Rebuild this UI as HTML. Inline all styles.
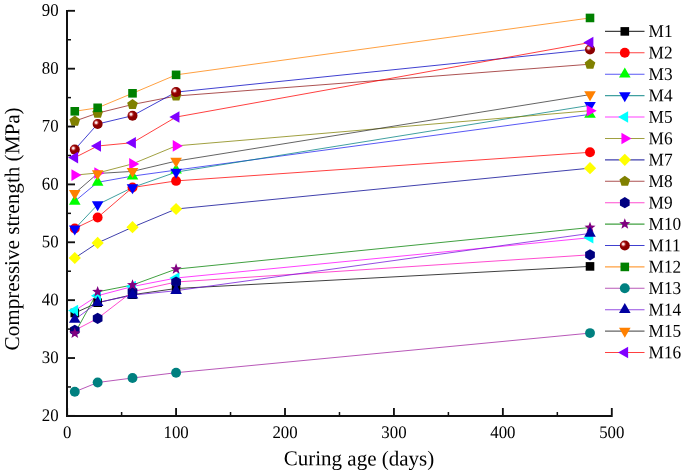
<!DOCTYPE html>
<html><head><meta charset="utf-8"><style>
html,body{margin:0;padding:0;background:#fff;}
svg{display:block;will-change:transform;}
text{font-family:"Liberation Serif",serif;fill:#000;text-rendering:geometricPrecision;}
</style></head><body>
<svg width="685" height="474" viewBox="0 0 685 474">
<defs><radialGradient id="sph" cx="0.36" cy="0.37" r="0.66" fx="0.35" fy="0.36"><stop offset="0" stop-color="#fff6f6"/><stop offset="0.14" stop-color="#f6dada"/><stop offset="0.3" stop-color="#b83838"/><stop offset="0.45" stop-color="#900000"/><stop offset="1" stop-color="#860000"/></radialGradient></defs>

<g><polyline points="74.78,313.00 97.65,302.70 132.51,294.70 176.08,288.50 590.01,266.40" fill="none" stroke="#000000" stroke-opacity="0.75" stroke-width="1.0"/><polyline points="74.78,228.50 97.65,217.50 132.51,187.50 176.08,180.90 590.01,152.30" fill="none" stroke="#FF0000" stroke-opacity="0.75" stroke-width="1.0"/><polyline points="74.78,201.30 97.65,182.30 132.51,176.10 176.08,170.10 590.01,114.40" fill="none" stroke="#2020F0" stroke-opacity="0.75" stroke-width="1.0"/><polyline points="74.78,228.80 97.65,204.60 132.51,187.50 176.08,172.10 590.01,105.30" fill="none" stroke="#008080" stroke-opacity="0.75" stroke-width="1.0"/><polyline points="74.78,310.60 97.65,295.70 132.51,286.50 176.08,278.00 590.01,237.70" fill="none" stroke="#FF00FF" stroke-opacity="0.75" stroke-width="1.0"/><polyline points="74.78,175.10 97.65,173.00 132.51,163.90 176.08,145.90 590.01,110.70" fill="none" stroke="#808000" stroke-opacity="0.75" stroke-width="1.0"/><polyline points="74.78,258.00 97.65,242.90 132.51,227.20 176.08,209.00 590.01,168.15" fill="none" stroke="#000090" stroke-opacity="0.75" stroke-width="1.0"/><polyline points="74.78,121.10 97.65,113.10 132.51,104.50 176.08,96.00 590.01,64.20" fill="none" stroke="#901818" stroke-opacity="0.75" stroke-width="1.0"/><polyline points="74.78,330.30 97.65,318.40 132.51,291.60 176.08,282.00 590.01,254.80" fill="none" stroke="#FF10C0" stroke-opacity="0.75" stroke-width="1.0"/><polyline points="74.78,333.30 97.65,291.80 132.51,285.00 176.08,269.10 590.01,227.50" fill="none" stroke="#008000" stroke-opacity="0.75" stroke-width="1.0"/><polyline points="74.78,149.60 97.65,124.00 132.51,115.70 176.08,92.10 590.01,49.50" fill="none" stroke="#0000C0" stroke-opacity="0.75" stroke-width="1.0"/><polyline points="74.78,111.30 97.65,107.80 132.51,93.30 176.08,74.85 590.01,17.95" fill="none" stroke="#FF8000" stroke-opacity="0.75" stroke-width="1.0"/><polyline points="74.78,391.80 97.65,382.50 132.51,378.00 176.08,372.70 590.01,333.10" fill="none" stroke="#A020A0" stroke-opacity="0.75" stroke-width="1.0"/><polyline points="74.78,319.50 97.65,302.60 132.51,295.10 176.08,290.70 590.01,233.40" fill="none" stroke="#7010D8" stroke-opacity="0.75" stroke-width="1.0"/><polyline points="74.78,193.30 97.65,173.50 132.51,171.40 176.08,161.10 590.01,94.60" fill="none" stroke="#303030" stroke-opacity="0.75" stroke-width="1.0"/><polyline points="74.78,157.60 97.65,146.00 132.51,142.70 176.08,117.05 590.01,42.50" fill="none" stroke="#FF0000" stroke-opacity="0.75" stroke-width="1.0"/></g>
<g><rect x="70.48" y="308.70" width="8.6" height="8.6" fill="#000000"/><rect x="93.35" y="298.40" width="8.6" height="8.6" fill="#000000"/><rect x="128.21" y="290.40" width="8.6" height="8.6" fill="#000000"/><rect x="171.78" y="284.20" width="8.6" height="8.6" fill="#000000"/><rect x="585.71" y="262.10" width="8.6" height="8.6" fill="#000000"/><circle cx="74.78" cy="228.50" r="4.95" fill="#FF0000"/><circle cx="97.65" cy="217.50" r="4.95" fill="#FF0000"/><circle cx="132.51" cy="187.50" r="4.95" fill="#FF0000"/><circle cx="176.08" cy="180.90" r="4.95" fill="#FF0000"/><circle cx="590.01" cy="152.30" r="4.95" fill="#FF0000"/><polygon points="74.78,194.60 80.58,204.65 68.97,204.65" fill="#00FF00"/><polygon points="97.65,175.60 103.45,185.65 91.85,185.65" fill="#00FF00"/><polygon points="132.51,169.40 138.31,179.45 126.71,179.45" fill="#00FF00"/><polygon points="176.08,163.40 181.88,173.45 170.28,173.45" fill="#00FF00"/><polygon points="590.01,107.70 595.82,117.75 584.21,117.75" fill="#00FF00"/><polygon points="74.78,235.50 68.97,225.45 80.58,225.45" fill="#0000FF"/><polygon points="97.65,211.30 91.85,201.25 103.45,201.25" fill="#0000FF"/><polygon points="132.51,194.20 126.71,184.15 138.31,184.15" fill="#0000FF"/><polygon points="176.08,178.80 170.28,168.75 181.88,168.75" fill="#0000FF"/><polygon points="590.01,112.00 584.21,101.95 595.82,101.95" fill="#0000FF"/><polygon points="68.08,310.60 78.13,304.80 78.13,316.40" fill="#00FFFF"/><polygon points="90.95,295.70 101.00,289.90 101.00,301.50" fill="#00FFFF"/><polygon points="125.81,286.50 135.86,280.70 135.86,292.30" fill="#00FFFF"/><polygon points="169.38,278.00 179.43,272.20 179.43,283.80" fill="#00FFFF"/><polygon points="583.31,237.70 593.36,231.90 593.36,243.50" fill="#00FFFF"/><polygon points="81.48,175.10 71.43,180.90 71.43,169.30" fill="#FF00FF"/><polygon points="104.35,173.00 94.30,178.80 94.30,167.20" fill="#FF00FF"/><polygon points="139.21,163.90 129.16,169.70 129.16,158.10" fill="#FF00FF"/><polygon points="182.78,145.90 172.73,151.70 172.73,140.10" fill="#FF00FF"/><polygon points="596.71,110.70 586.66,116.50 586.66,104.90" fill="#FF00FF"/><polygon points="74.78,251.90 80.88,258.00 74.78,264.10 68.68,258.00" fill="#FFFF00"/><polygon points="97.65,236.80 103.75,242.90 97.65,249.00 91.55,242.90" fill="#FFFF00"/><polygon points="132.51,221.10 138.61,227.20 132.51,233.30 126.41,227.20" fill="#FFFF00"/><polygon points="176.08,202.90 182.18,209.00 176.08,215.10 169.98,209.00" fill="#FFFF00"/><polygon points="590.01,162.05 596.11,168.15 590.01,174.25 583.91,168.15" fill="#FFFF00"/><polygon points="74.78,115.50 80.10,119.37 78.07,125.63 71.48,125.63 69.45,119.37" fill="#808000"/><polygon points="97.65,107.50 102.98,111.37 100.94,117.63 94.36,117.63 92.32,111.37" fill="#808000"/><polygon points="132.51,98.90 137.83,102.77 135.80,109.03 129.22,109.03 127.18,102.77" fill="#808000"/><polygon points="176.08,90.40 181.41,94.27 179.37,100.53 172.79,100.53 170.75,94.27" fill="#808000"/><polygon points="590.01,58.60 595.34,62.47 593.31,68.73 586.72,68.73 584.69,62.47" fill="#808000"/><polygon points="74.78,324.70 79.62,327.50 79.62,333.10 74.78,335.90 69.93,333.10 69.93,327.50" fill="#000080"/><polygon points="97.65,312.80 102.50,315.60 102.50,321.20 97.65,324.00 92.80,321.20 92.80,315.60" fill="#000080"/><polygon points="132.51,286.00 137.36,288.80 137.36,294.40 132.51,297.20 127.66,294.40 127.66,288.80" fill="#000080"/><polygon points="176.08,276.40 180.93,279.20 180.93,284.80 176.08,287.60 171.23,284.80 171.23,279.20" fill="#000080"/><polygon points="590.01,249.20 594.86,252.00 594.86,257.60 590.01,260.40 585.16,257.60 585.16,252.00" fill="#000080"/><polygon points="74.78,327.50 76.21,331.33 80.29,331.51 77.09,334.05 78.18,337.99 74.78,335.74 71.37,337.99 72.46,334.05 69.26,331.51 73.34,331.33" fill="#800080"/><polygon points="97.65,286.00 99.08,289.83 103.17,290.01 99.97,292.55 101.06,296.49 97.65,294.24 94.24,296.49 95.33,292.55 92.13,290.01 96.22,289.83" fill="#800080"/><polygon points="132.51,279.20 133.94,283.03 138.02,283.21 134.82,285.75 135.92,289.69 132.51,287.44 129.10,289.69 130.19,285.75 126.99,283.21 131.08,283.03" fill="#800080"/><polygon points="176.08,263.30 177.51,267.13 181.60,267.31 178.40,269.85 179.49,273.79 176.08,271.54 172.67,273.79 173.76,269.85 170.56,267.31 174.65,267.13" fill="#800080"/><polygon points="590.01,221.70 591.45,225.53 595.53,225.71 592.33,228.25 593.42,232.19 590.01,229.94 586.60,232.19 587.70,228.25 584.50,225.71 588.58,225.53" fill="#800080"/><circle cx="74.78" cy="149.60" r="5" fill="url(#sph)"/><circle cx="97.65" cy="124.00" r="5" fill="url(#sph)"/><circle cx="132.51" cy="115.70" r="5" fill="url(#sph)"/><circle cx="176.08" cy="92.10" r="5" fill="url(#sph)"/><circle cx="590.01" cy="49.50" r="5" fill="url(#sph)"/><rect x="70.48" y="107.00" width="8.6" height="8.6" fill="#008000"/><rect x="93.35" y="103.50" width="8.6" height="8.6" fill="#008000"/><rect x="128.21" y="89.00" width="8.6" height="8.6" fill="#008000"/><rect x="171.78" y="70.55" width="8.6" height="8.6" fill="#008000"/><rect x="585.71" y="13.65" width="8.6" height="8.6" fill="#008000"/><circle cx="74.78" cy="391.80" r="4.95" fill="#008080"/><circle cx="97.65" cy="382.50" r="4.95" fill="#008080"/><circle cx="132.51" cy="378.00" r="4.95" fill="#008080"/><circle cx="176.08" cy="372.70" r="4.95" fill="#008080"/><circle cx="590.01" cy="333.10" r="4.95" fill="#008080"/><polygon points="74.78,312.80 80.58,322.85 68.97,322.85" fill="#0000A0"/><polygon points="97.65,295.90 103.45,305.95 91.85,305.95" fill="#0000A0"/><polygon points="132.51,288.40 138.31,298.45 126.71,298.45" fill="#0000A0"/><polygon points="176.08,284.00 181.88,294.05 170.28,294.05" fill="#0000A0"/><polygon points="590.01,226.70 595.82,236.75 584.21,236.75" fill="#0000A0"/><polygon points="74.78,200.00 68.97,189.95 80.58,189.95" fill="#FF8000"/><polygon points="97.65,180.20 91.85,170.15 103.45,170.15" fill="#FF8000"/><polygon points="132.51,178.10 126.71,168.05 138.31,168.05" fill="#FF8000"/><polygon points="176.08,167.80 170.28,157.75 181.88,157.75" fill="#FF8000"/><polygon points="590.01,101.30 584.21,91.25 595.82,91.25" fill="#FF8000"/><polygon points="68.08,157.60 78.13,151.80 78.13,163.40" fill="#8000FF"/><polygon points="90.95,146.00 101.00,140.20 101.00,151.80" fill="#8000FF"/><polygon points="125.81,142.70 135.86,136.90 135.86,148.50" fill="#8000FF"/><polygon points="169.38,117.05 179.43,111.25 179.43,122.85" fill="#8000FF"/><polygon points="583.31,42.50 593.36,36.70 593.36,48.30" fill="#8000FF"/></g>
<g><rect x="66" y="10" width="2" height="407" fill="#111"/><rect x="66" y="415" width="546.7" height="2" fill="#111"/><rect x="68" y="414.97" width="7" height="1.85" fill="#111"/><rect x="68" y="386.21" width="3" height="1.5" fill="#111"/><rect x="68" y="357.10" width="7" height="1.85" fill="#111"/><rect x="68" y="328.34" width="3" height="1.5" fill="#111"/><rect x="68" y="299.23" width="7" height="1.85" fill="#111"/><rect x="68" y="270.47" width="3" height="1.5" fill="#111"/><rect x="68" y="241.36" width="7" height="1.85" fill="#111"/><rect x="68" y="212.60" width="3" height="1.5" fill="#111"/><rect x="68" y="183.49" width="7" height="1.85" fill="#111"/><rect x="68" y="154.73" width="3" height="1.5" fill="#111"/><rect x="68" y="125.62" width="7" height="1.85" fill="#111"/><rect x="68" y="96.87" width="3" height="1.5" fill="#111"/><rect x="68" y="67.76" width="7" height="1.85" fill="#111"/><rect x="68" y="39.00" width="3" height="1.5" fill="#111"/><rect x="68" y="9.89" width="7" height="1.85" fill="#111"/><rect x="66.23" y="408" width="1.85" height="7" fill="#111"/><rect x="120.87" y="412" width="1.5" height="3" fill="#111"/><rect x="175.15" y="408" width="1.85" height="7" fill="#111"/><rect x="229.79" y="412" width="1.5" height="3" fill="#111"/><rect x="284.08" y="408" width="1.85" height="7" fill="#111"/><rect x="338.73" y="412" width="1.5" height="3" fill="#111"/><rect x="393.01" y="408" width="1.85" height="7" fill="#111"/><rect x="447.65" y="412" width="1.5" height="3" fill="#111"/><rect x="501.94" y="408" width="1.85" height="7" fill="#111"/><rect x="556.58" y="412" width="1.5" height="3" fill="#111"/><rect x="610.88" y="408" width="1.85" height="7" fill="#111"/></g>
<text transform="translate(58.6,420.90) rotate(0.05) scale(0.95,1)" font-size="17.7" text-anchor="end">20</text><text transform="translate(58.6,363.03) rotate(0.05) scale(0.95,1)" font-size="17.7" text-anchor="end">30</text><text transform="translate(58.6,305.16) rotate(0.05) scale(0.95,1)" font-size="17.7" text-anchor="end">40</text><text transform="translate(58.6,247.29) rotate(0.05) scale(0.95,1)" font-size="17.7" text-anchor="end">50</text><text transform="translate(58.6,189.42) rotate(0.05) scale(0.95,1)" font-size="17.7" text-anchor="end">60</text><text transform="translate(58.6,131.55) rotate(0.05) scale(0.95,1)" font-size="17.7" text-anchor="end">70</text><text transform="translate(58.6,73.68) rotate(0.05) scale(0.95,1)" font-size="17.7" text-anchor="end">80</text><text transform="translate(58.6,15.81) rotate(0.05) scale(0.95,1)" font-size="17.7" text-anchor="end">90</text><text transform="translate(67.15,437.9) rotate(0.05) scale(0.95,1)" font-size="17.7" text-anchor="middle">0</text><text transform="translate(176.08,437.9) rotate(0.05) scale(0.95,1)" font-size="17.7" text-anchor="middle">100</text><text transform="translate(285.01,437.9) rotate(0.05) scale(0.95,1)" font-size="17.7" text-anchor="middle">200</text><text transform="translate(393.94,437.9) rotate(0.05) scale(0.95,1)" font-size="17.7" text-anchor="middle">300</text><text transform="translate(502.87,437.9) rotate(0.05) scale(0.95,1)" font-size="17.7" text-anchor="middle">400</text><text transform="translate(611.80,437.9) rotate(0.05) scale(0.95,1)" font-size="17.7" text-anchor="middle">500</text>
<text transform="translate(359,465.4) rotate(0.05) scale(0.986,1)" font-size="21.3" text-anchor="middle">Curing age (days)</text>
<text transform="translate(19.1,228.9) rotate(-89.95)" font-size="21.15" text-anchor="middle">Compressive strength (MPa)</text>
<line x1="605" y1="31.40" x2="644.5" y2="31.40" stroke="#000000" stroke-opacity="0.75" stroke-width="1.1"/><rect x="620.50" y="27.10" width="8.6" height="8.6" fill="#000000"/><text transform="translate(648.6,37.10) rotate(0.05) scale(0.96,1)" font-size="18">M1</text><line x1="605" y1="52.81" x2="644.5" y2="52.81" stroke="#FF0000" stroke-opacity="0.75" stroke-width="1.1"/><circle cx="624.80" cy="52.81" r="4.95" fill="#FF0000"/><text transform="translate(648.6,58.51) rotate(0.05) scale(0.96,1)" font-size="18">M2</text><line x1="605" y1="74.22" x2="644.5" y2="74.22" stroke="#2020F0" stroke-opacity="0.75" stroke-width="1.1"/><polygon points="624.80,67.52 630.60,77.57 619.00,77.57" fill="#00FF00"/><text transform="translate(648.6,79.92) rotate(0.05) scale(0.96,1)" font-size="18">M3</text><line x1="605" y1="95.63" x2="644.5" y2="95.63" stroke="#008080" stroke-opacity="0.75" stroke-width="1.1"/><polygon points="624.80,102.33 619.00,92.28 630.60,92.28" fill="#0000FF"/><text transform="translate(648.6,101.33) rotate(0.05) scale(0.96,1)" font-size="18">M4</text><line x1="605" y1="117.04" x2="644.5" y2="117.04" stroke="#FF00FF" stroke-opacity="0.75" stroke-width="1.1"/><polygon points="618.10,117.04 628.15,111.24 628.15,122.84" fill="#00FFFF"/><text transform="translate(648.6,122.74) rotate(0.05) scale(0.96,1)" font-size="18">M5</text><line x1="605" y1="138.45" x2="644.5" y2="138.45" stroke="#808000" stroke-opacity="0.75" stroke-width="1.1"/><polygon points="631.50,138.45 621.45,144.25 621.45,132.65" fill="#FF00FF"/><text transform="translate(648.6,144.15) rotate(0.05) scale(0.96,1)" font-size="18">M6</text><line x1="605" y1="159.86" x2="644.5" y2="159.86" stroke="#000090" stroke-opacity="0.75" stroke-width="1.1"/><polygon points="624.80,153.76 630.90,159.86 624.80,165.96 618.70,159.86" fill="#FFFF00"/><text transform="translate(648.6,165.56) rotate(0.05) scale(0.96,1)" font-size="18">M7</text><line x1="605" y1="181.27" x2="644.5" y2="181.27" stroke="#901818" stroke-opacity="0.75" stroke-width="1.1"/><polygon points="624.80,175.67 630.13,179.54 628.09,185.80 621.51,185.80 619.47,179.54" fill="#808000"/><text transform="translate(648.6,186.97) rotate(0.05) scale(0.96,1)" font-size="18">M8</text><line x1="605" y1="202.68" x2="644.5" y2="202.68" stroke="#FF10C0" stroke-opacity="0.75" stroke-width="1.1"/><polygon points="624.80,197.08 629.65,199.88 629.65,205.48 624.80,208.28 619.95,205.48 619.95,199.88" fill="#000080"/><text transform="translate(648.6,208.38) rotate(0.05) scale(0.96,1)" font-size="18">M9</text><line x1="605" y1="224.09" x2="644.5" y2="224.09" stroke="#008000" stroke-opacity="0.75" stroke-width="1.1"/><polygon points="624.80,218.29 626.23,222.12 630.32,222.30 627.12,224.84 628.21,228.78 624.80,226.53 621.39,228.78 622.48,224.84 619.28,222.30 623.37,222.12" fill="#800080"/><text transform="translate(648.6,229.79) rotate(0.05) scale(0.96,1)" font-size="18">M10</text><line x1="605" y1="245.50" x2="644.5" y2="245.50" stroke="#0000C0" stroke-opacity="0.75" stroke-width="1.1"/><circle cx="624.80" cy="245.50" r="5" fill="url(#sph)"/><text transform="translate(648.6,251.20) rotate(0.05) scale(0.96,1)" font-size="18">M11</text><line x1="605" y1="266.91" x2="644.5" y2="266.91" stroke="#FF8000" stroke-opacity="0.75" stroke-width="1.1"/><rect x="620.50" y="262.61" width="8.6" height="8.6" fill="#008000"/><text transform="translate(648.6,272.61) rotate(0.05) scale(0.96,1)" font-size="18">M12</text><line x1="605" y1="288.32" x2="644.5" y2="288.32" stroke="#A020A0" stroke-opacity="0.75" stroke-width="1.1"/><circle cx="624.80" cy="288.32" r="4.95" fill="#008080"/><text transform="translate(648.6,294.02) rotate(0.05) scale(0.96,1)" font-size="18">M13</text><line x1="605" y1="309.73" x2="644.5" y2="309.73" stroke="#7010D8" stroke-opacity="0.75" stroke-width="1.1"/><polygon points="624.80,303.03 630.60,313.08 619.00,313.08" fill="#0000A0"/><text transform="translate(648.6,315.43) rotate(0.05) scale(0.96,1)" font-size="18">M14</text><line x1="605" y1="331.14" x2="644.5" y2="331.14" stroke="#303030" stroke-opacity="0.75" stroke-width="1.1"/><polygon points="624.80,337.84 619.00,327.79 630.60,327.79" fill="#FF8000"/><text transform="translate(648.6,336.84) rotate(0.05) scale(0.96,1)" font-size="18">M15</text><line x1="605" y1="352.55" x2="644.5" y2="352.55" stroke="#FF0000" stroke-opacity="0.75" stroke-width="1.1"/><polygon points="618.10,352.55 628.15,346.75 628.15,358.35" fill="#8000FF"/><text transform="translate(648.6,358.25) rotate(0.05) scale(0.96,1)" font-size="18">M16</text>
</svg></body></html>
